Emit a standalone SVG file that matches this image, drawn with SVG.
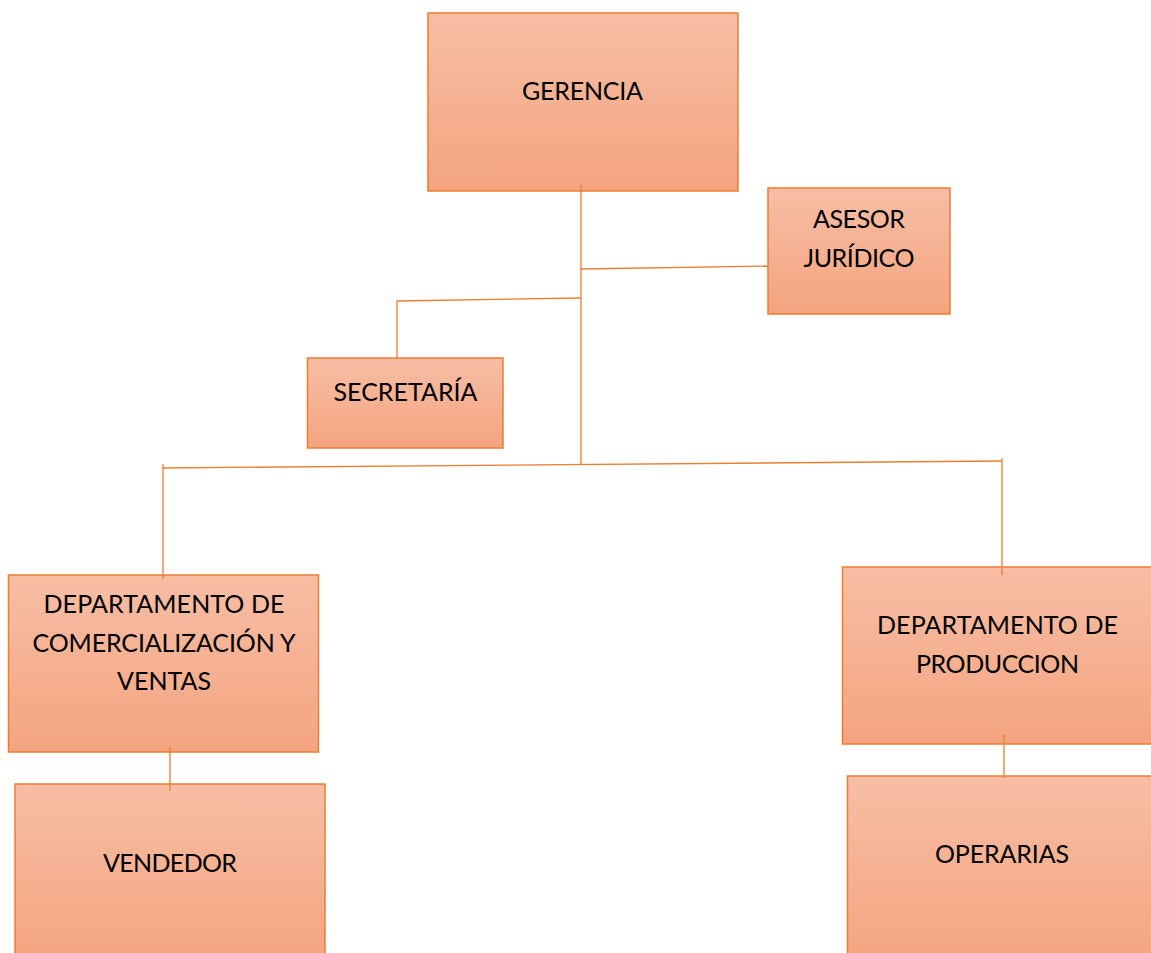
<svg xmlns="http://www.w3.org/2000/svg" width="1151" height="953" viewBox="0 0 1151 953">
<style>
.box{fill:url(#g);stroke:#ED7D31;stroke-width:1.5}
.t{font-family:Lato,"Open Sans",sans-serif;font-size:25px;fill:#000;text-anchor:middle}
.ln{stroke:#ED7D31;stroke-width:1.3;fill:none}
</style>
<defs>
<linearGradient id="g" x1="0" y1="0" x2="0" y2="1">
<stop offset="0" stop-color="#F7BEA5"/>
<stop offset="1" stop-color="#F4A47F"/>
</linearGradient>
</defs>
<rect width="1151" height="953" fill="#fff"/>
<g id="gerencia">
<rect class="box" x="428" y="13" width="310" height="178"/>
<text class="t" x="582.5" y="100" textLength="121">GERENCIA</text>
</g>
<g id="asesor">
<rect class="box" x="768" y="188" width="182" height="126"/>
<text class="t" x="859" y="228" textLength="92">ASESOR</text>
<text class="t" x="859" y="267" textLength="111">JURÍDICO</text>
</g>
<g id="secretaria">
<rect class="box" x="307.5" y="358" width="195.5" height="90"/>
<text class="t" x="405.5" y="401" textLength="144">SECRETARÍA</text>
</g>
<g id="comercializacion">
<rect class="box" x="8.5" y="575" width="310" height="177"/>
<text class="t" x="164" y="613" textLength="241">DEPARTAMENTO DE</text>
<text class="t" x="164" y="652" textLength="263">COMERCIALIZACIÓN Y</text>
<text class="t" x="164" y="690" textLength="94">VENTAS</text>
</g>
<g id="vendedor">
<rect class="box" x="15" y="784" width="310" height="180"/>
<text class="t" x="170" y="872" textLength="134">VENDEDOR</text>
</g>
<g id="produccion">
<rect class="box" x="842.5" y="567" width="320" height="177"/>
<text class="t" x="997.5" y="634" textLength="241">DEPARTAMENTO DE</text>
<text class="t" x="997.5" y="673" textLength="163">PRODUCCION</text>
</g>
<g id="operarias">
<rect class="box" x="847.5" y="776" width="320" height="190"/>
<text class="t" x="1002" y="863" textLength="134">OPERARIAS</text>
</g>
<g id="connectors">
<path class="ln" d="M581 185 V465"/>
<path class="ln" d="M581 269 L768 266"/>
<path class="ln" d="M581 298 L397 301 V358"/>
<path class="ln" d="M163 468 L1002 461"/>
<path class="ln" d="M163 464 V579"/>
<path class="ln" d="M1002 458 V575"/>
<path class="ln" d="M170 747 V791"/>
<path class="ln" d="M1004 734 V778"/>
</g>
</svg>
